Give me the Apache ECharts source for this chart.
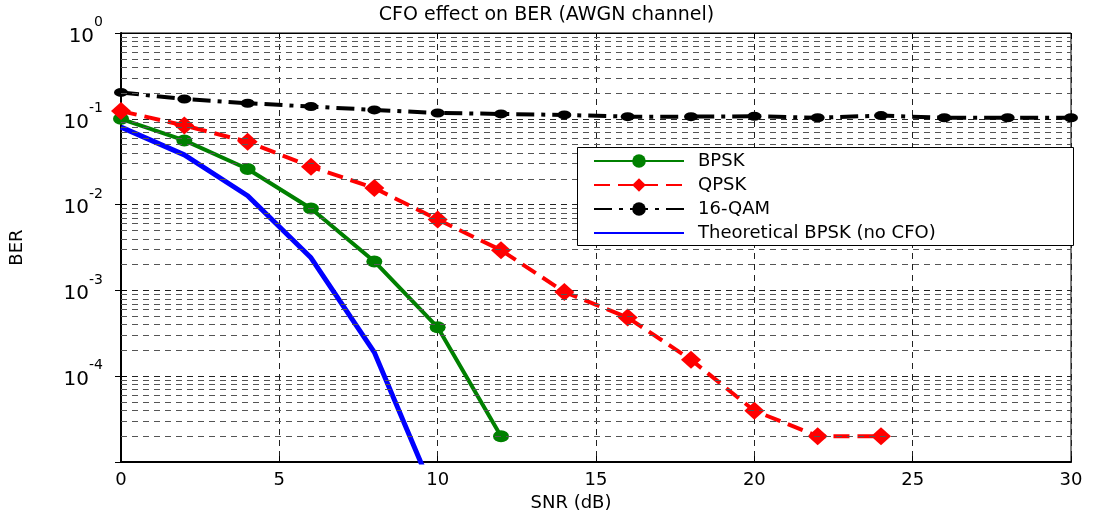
<!DOCTYPE html>
<html><head><meta charset="utf-8">
<script src="https://cdn.jsdelivr.net/npm/echarts/dist/echarts.min.js"></script>
<style>html,body{margin:0;padding:0;background:#fff}#c{width:1093px;height:517px}</style>
</head><body><div id="c"></div>
<script>
// ---- data ----
const snr = [0,2,4,6,8,10,12,14,16,18,20,22,24,26,28,30];
const bpsk = [0.1,0.056,0.026,0.009,0.00218,0.000372,0.00002];
const qpsk = [0.123,0.0837,0.054,0.0277,0.0156,0.00671,0.00295,0.00096,0.000484,0.000156,0.0000397,0.00002,0.00002];
const qam16 = [0.203,0.170,0.152,0.139,0.127,0.117,0.114,0.111,0.106,0.106,0.107,0.103,0.109,0.103,0.103,0.103];
const theory = [0.08,0.038,0.0127,0.0024,0.00019,0.0000034];
const decades = [-5,-4,-3,-2,-1,0];
const minorMult = [2,3,4,5,6,7,8,9];

const pair = arr => arr.map((v,i)=>[snr[i], v]);
const minorLines = [];
decades.slice(0,-1).forEach(k => minorMult.forEach(m => minorLines.push({yAxis: m*Math.pow(10,k)})));

const FONT = 'DejaVu Sans';
const chart = echarts.init(document.getElementById('c'), null, {renderer:'canvas'});

chart.setOption({
  animation:false,
  backgroundColor:'#fff',
  textStyle:{fontFamily:FONT},
  title:{text:'CFO effect on BER (AWGN channel)', left:'center', top:1,
    textStyle:{fontFamily:FONT, fontSize:19, fontWeight:'normal', color:'#000'}},
  grid:{left:121, right:22, top:33, bottom:50, show:true, borderColor:'#000', borderWidth:1, backgroundColor:'transparent'},
  xAxis:[{
    type:'value', min:0, max:30, interval:5,
    name:'SNR (dB)', nameLocation:'middle', nameGap:30,
    nameTextStyle:{fontFamily:FONT, fontSize:18, color:'#000', padding:[0,50,0,0]},
    axisLine:{lineStyle:{color:'#000', width:2}},
    axisTick:{inside:true, length:6, lineStyle:{color:'#000'}},
    axisLabel:{fontFamily:FONT, fontSize:18, color:'#000', margin:9},
    splitLine:{show:true, lineStyle:{color:'#222', type:[6,5], width:1}}
  },{
    type:'value', min:0, max:30, interval:5, position:'top',
    axisLine:{lineStyle:{color:'#000', width:1}},
    axisTick:{inside:true, length:6, lineStyle:{color:'#000'}},
    axisLabel:{show:false}, splitLine:{show:false}
  }],
  yAxis:[{
    type:'log', logBase:10, min:1e-5, max:1,
    name:'BER', nameLocation:'middle', nameGap:95,
    nameTextStyle:{fontFamily:FONT, fontSize:18, color:'#000'},
    axisLine:{lineStyle:{color:'#000', width:2}},
    axisTick:{inside:true, length:6, lineStyle:{color:'#000'}},
    axisLabel:{margin:18, color:'#000', padding:[7,0,0,0],
      formatter: v => { const e = Math.round(Math.log10(v)); if (e === -5) return ''; return '{b|10}{s|' + e + '}'; },
      rich:{ b:{fontFamily:FONT, fontSize:20, lineHeight:42, color:'#000'},
             s:{fontFamily:FONT, fontSize:14, lineHeight:14, verticalAlign:'top', color:'#000'} }},
    splitLine:{show:true, lineStyle:{color:'#222', type:[6,5], width:1}}
  },{
    type:'log', logBase:10, min:1e-5, max:1, position:'right',
    axisLine:{lineStyle:{color:'#000', width:1}},
    axisTick:{inside:true, length:6, lineStyle:{color:'#000'}},
    axisLabel:{show:false}, splitLine:{show:false}
  }],
  legend:{
    data:['BPSK','QPSK','16-QAM',
      {name:'Theoretical BPSK (no CFO)', itemStyle:{color:'rgba(0,0,0,0)', borderWidth:0}}],
    orient:'vertical', left:593, top:152, padding:0, itemGap:6,
    itemWidth:90, itemHeight:17, z:20,
    textStyle:{fontFamily:FONT, fontSize:18, color:'#000', padding:[0,0,0,9]}
  },
  graphic:[{type:'rect', left:577, top:147, z:10,
    shape:{width:496, height:98}, style:{fill:'#fff', stroke:'#000', lineWidth:1}}],
  series:[
    {name:'grid-minor', type:'line', data:[], z:1, silent:true,
      markLine:{silent:true, symbol:'none', precision:10, label:{show:false},
        lineStyle:{color:'#555', type:[6,5], width:1}, data:minorLines}},
    {name:'Theoretical BPSK (no CFO)', type:'line', data:pair(theory), showSymbol:false, symbol:'none',
      lineStyle:{color:'#0000ff', width:5}, itemStyle:{color:'#0000ff'}, z:3, clip:true},
    {name:'BPSK', type:'line', data:pair(bpsk), symbol:'circle', symbolSize:[16,12],
      lineStyle:{color:'#008000', width:4}, itemStyle:{color:'#008000'}, z:4, clip:true},
    {name:'QPSK', type:'line', data:pair(qpsk), symbol:'diamond', symbolSize:[20,18],
      lineStyle:{color:'#ff0000', width:4, type:[16,8]}, itemStyle:{color:'#ff0000'}, z:4, clip:true},
    {name:'16-QAM', type:'line', data:pair(qam16), symbol:'circle', symbolSize:[14,9],
      lineStyle:{color:'#000', width:4, type:[18,7,4,7]}, itemStyle:{color:'#000'}, z:4, clip:true}
  ]
});
</script></body></html>
